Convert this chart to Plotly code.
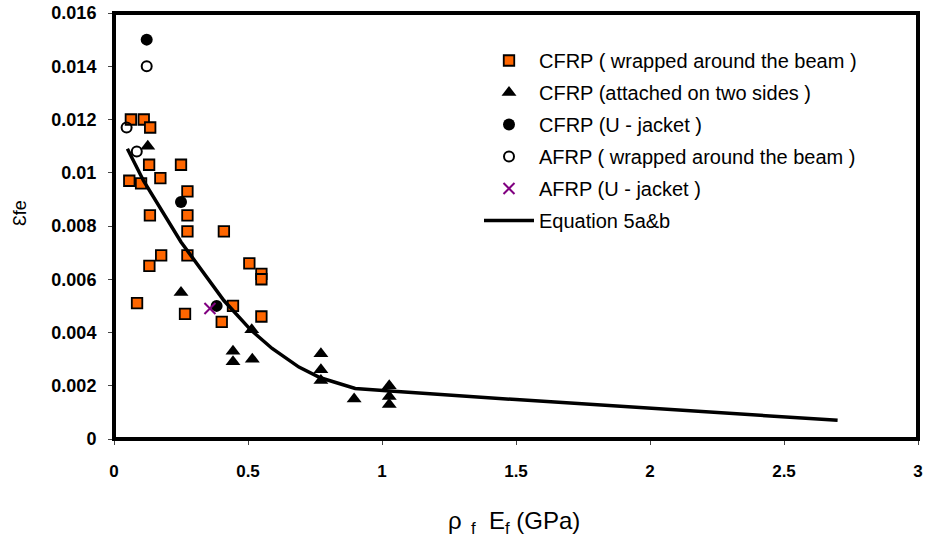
import plotly.graph_objects as go

# CFRP wrapped around the beam (squares)
cfrp_wrap_x = [0.063, 0.111, 0.135, 0.131, 0.250, 0.057, 0.101, 0.173, 0.274, 0.134, 0.274, 0.274,
               0.410, 0.176, 0.274, 0.132, 0.505, 0.550, 0.550, 0.086, 0.265, 0.444, 0.402, 0.550]
cfrp_wrap_y = [0.0120, 0.0120, 0.0117, 0.0103, 0.0103, 0.0097, 0.0096, 0.0098, 0.0093, 0.0084, 0.0084, 0.0078,
               0.0078, 0.0069, 0.0069, 0.0065, 0.0066, 0.0062, 0.0060, 0.0051, 0.0047, 0.0050, 0.0044, 0.0046]

# CFRP attached on two sides (triangles)
cfrp_side_x = [0.126, 0.250, 0.514, 0.444, 0.444, 0.516, 0.772, 0.772, 0.772, 0.896, 1.027, 1.027, 1.027]
cfrp_side_y = [0.0110, 0.0055, 0.0041, 0.0033, 0.0029, 0.0030, 0.0032, 0.0026, 0.0022, 0.0015, 0.0020, 0.0016, 0.0013]

# CFRP U-jacket (filled circles)
cfrp_u_x = [0.122, 0.250, 0.383]
cfrp_u_y = [0.0150, 0.0089, 0.0050]

# AFRP wrapped around the beam (open circles)
afrp_wrap_x = [0.122, 0.047, 0.085]
afrp_wrap_y = [0.0140, 0.0117, 0.0108]

# AFRP U-jacket (x)
afrp_u_x = [0.358]
afrp_u_y = [0.0049]

# Equation 5a&b
eq_x = [0.05, 0.11, 0.25, 0.41, 0.51, 0.59, 0.69, 0.77, 0.90, 1.03, 1.50, 2.70]
eq_y = [0.0109, 0.0097, 0.0074, 0.0052, 0.0041, 0.0034, 0.0027, 0.0023, 0.0019, 0.0018, 0.00148, 0.0007]

x_ticks = [0, 0.5, 1, 1.5, 2, 2.5, 3]
x_ticktext = ["0", "0.5", "1", "1.5", "2", "2.5", "3"]
y_ticks = [0, 0.002, 0.004, 0.006, 0.008, 0.01, 0.012, 0.014, 0.016]
y_ticktext = ["0", "0.002", "0.004", "0.006", "0.008", "0.01", "0.012", "0.014", "0.016"]

FONT = "Liberation Sans, Arial, sans-serif"
NB = "\u00a0"

fig = go.Figure()
fig.add_trace(go.Scatter(x=cfrp_wrap_x, y=cfrp_wrap_y, mode="markers",
                         name="CFRP ( wrapped around the beam )", legendgroup="a",
                         marker=dict(symbol="square", size=10.5, color="#FF6600",
                                     line=dict(color="black", width=1.8))))
fig.add_trace(go.Scatter(x=cfrp_side_x, y=cfrp_side_y, mode="markers",
                         name="CFRP (attached on two sides )", legendgroup="b",
                         marker=dict(symbol="triangle-up", size=13, color="black")))
fig.add_trace(go.Scatter(x=cfrp_u_x, y=cfrp_u_y, mode="markers",
                         name="CFRP (U - jacket )", legendgroup="c",
                         marker=dict(symbol="circle", size=12, color="black")))
fig.add_trace(go.Scatter(x=afrp_wrap_x, y=afrp_wrap_y, mode="markers",
                         name="AFRP ( wrapped around the beam )", legendgroup="d",
                         marker=dict(symbol="circle-open", size=10, color="black",
                                     line=dict(color="black", width=2))))
fig.add_trace(go.Scatter(x=afrp_u_x, y=afrp_u_y, mode="markers",
                         name="AFRP (U - jacket )", legendgroup="e",
                         marker=dict(symbol="x-thin-open", size=11, color="#800080",
                                     line=dict(color="#800080", width=2))))
fig.add_trace(go.Scatter(x=eq_x, y=eq_y, mode="lines", name="Equation 5a&b", legendgroup="f",
                         line=dict(color="black", width=3.5)))

fig.update_layout(
    width=926, height=545,
    margin=dict(l=114, r=8, t=13, b=106, autoexpand=False),
    paper_bgcolor="white", plot_bgcolor="white",
    font=dict(family=FONT, color="black"),
    showlegend=True,
    legend=dict(x=(479 - 114) / 804, y=(439 - 41) / 426, xanchor="left", yanchor="top",
                bgcolor="rgba(0,0,0,0)", borderwidth=0,
                font=dict(family=FONT, size=20, color="black"),
                itemwidth=50, tracegroupgap=3, traceorder="grouped"),
    xaxis=dict(range=[0, 3], tickvals=x_ticks, ticktext=x_ticktext,
               showgrid=False, zeroline=False, showline=False, automargin=False,
               ticks="outside", ticklen=5, tickwidth=1, tickcolor="#444",
               ticklabelstandoff=12, ticklabeloverflow="allow",
               tickfont=dict(family=FONT, size=17, weight="bold", color="black")),
    yaxis=dict(range=[0, 0.016], tickvals=y_ticks, ticktext=y_ticktext,
               showgrid=False, zeroline=False, showline=False, automargin=False,
               ticks="outside", ticklen=5, tickwidth=1, tickcolor="#444",
               ticklabelstandoff=8, ticklabeloverflow="allow",
               tickfont=dict(family=FONT, size=18, weight="bold", color="black")),
    shapes=[dict(type="rect", xref="paper", yref="paper", x0=0, x1=1, y0=0, y1=1,
                 line=dict(color="black", width=4), layer="above")],
    annotations=[
        dict(text="ρ<sub>" + NB + NB + "f</sub>" + NB + NB + "E<sub>f</sub>" + NB + "(GPa)",
             xref="paper", yref="paper",
             x=(514 - 114) / 804, y=-(522 - 439) / 426, xanchor="center", yanchor="middle",
             showarrow=False, font=dict(family=FONT, size=24, color="black")),
        dict(text="Ɛfe", xref="paper", yref="paper", textangle=-90,
             x=-(114 - 20) / 804, y=(439 - 213) / 426, xanchor="center", yanchor="middle",
             showarrow=False, font=dict(family=FONT, size=18, color="black")),
    ],
)

# remove the default 8px page margin so the 926x545 figure fills the window exactly
fig.write_html("out.html",
               config={"displayModeBar": False},
               post_script="document.body.style.margin='0';document.body.style.overflow='hidden';")
